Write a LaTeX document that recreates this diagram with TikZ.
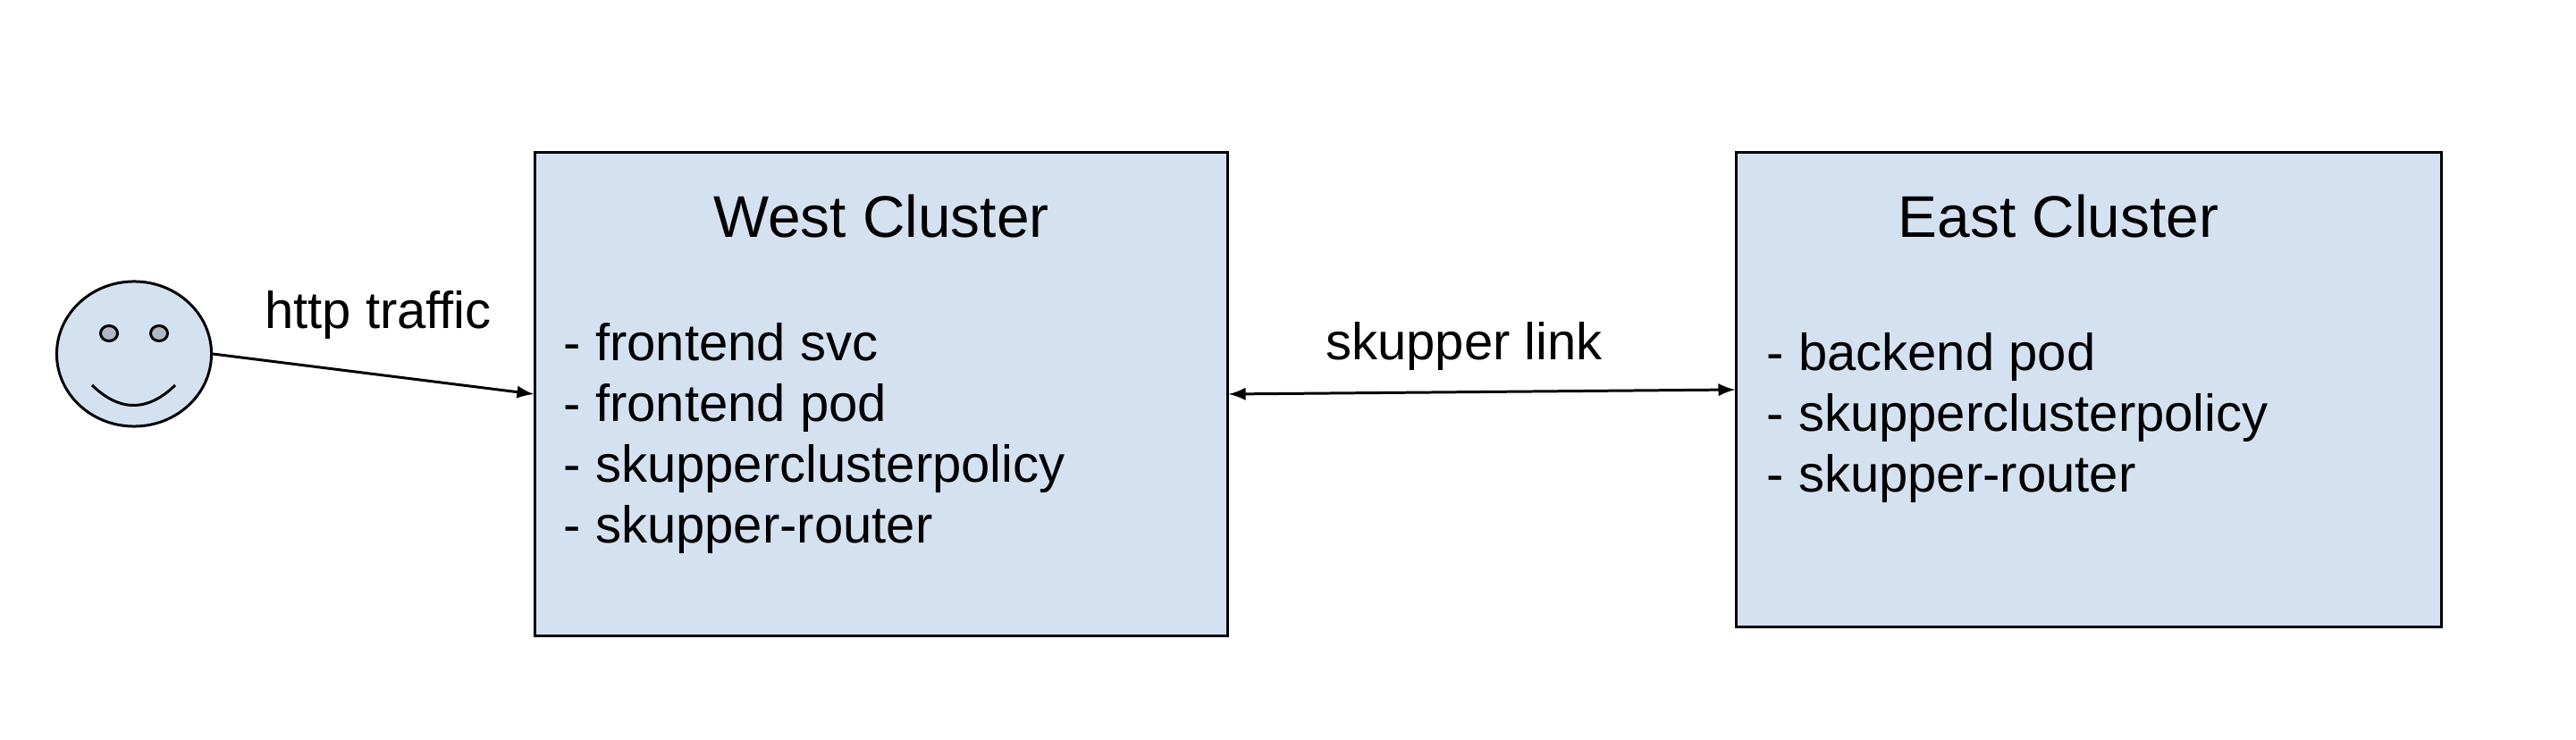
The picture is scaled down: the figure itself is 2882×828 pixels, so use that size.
\documentclass[tikz,border=0pt]{standalone}
\usepackage{fontspec}
\setmainfont{Liberation Sans}
\usepackage{xcolor}
\usetikzlibrary{shapes.geometric}
\definecolor{boxblue}{HTML}{D4E1F1}
\definecolor{eyegray}{HTML}{AEB9C7}
\tikzset{
	cluster/.style={draw=black, fill=boxblue, line width=0.85pt, inner sep=0pt},
	label/.style={font=\fontsize{16.5}{20}\selectfont, inner sep=0pt, anchor=base},
	item/.style={font=\fontsize{16.5}{20}\selectfont, inner sep=0pt, anchor=base west},
	title/.style={font=\fontsize{18.7}{22}\selectfont, inner sep=0pt, anchor=base},
	link/.style={line width=0.85pt, latex-latex},
}

\begin{document}
\begin{tikzpicture}[x=0.01cm, y=-0.01cm]
\useasboundingbox (0,0) rectangle (2882,828);

\node [cluster, minimum width=7.74cm, minimum height=5.40cm] at (986,441) (west) {};
\node [cluster, minimum width=7.88cm, minimum height=5.30cm] at (2337,436) (east) {};
\node [draw=black, fill=boxblue, line width=0.85pt, ellipse, inner sep=0pt, minimum width=1.73cm, minimum height=1.62cm] at (150,396) (face) {};

\foreach \x/\name in {122/lefteye,178/righteye}
	\node [draw=black, fill=eyegray, line width=0.85pt, ellipse, inner sep=0pt, minimum width=0.19cm, minimum height=0.17cm] at (\x,373) (\name) {};
\draw [line width=0.85pt] (103,431) .. controls (134,461) and (165,461) .. (196,431);

\node [title] at (986,266) (westtitle) {West Cluster};
\node [title] at (2303,266) (easttitle) {East Cluster};

\foreach \y/\name/\txt in {
		404/wa/frontend svc,
		472/wb/frontend pod,
		540/wc/skupperclusterpolicy,
		608/wd/skupper-router
	}
	\node [item] at (630,\y) (\name) {- \txt};

\foreach \y/\name/\txt in {
		415/ea/backend pod,
		483/eb/skupperclusterpolicy,
		551/ec/skupper-router
	}
	\node [item] at (1976,\y) (\name) {- \txt};

\node [label] at (423,368) (http) {http traffic};
\node [label] at (1638,403) (skupper) {skupper link};

\draw [line width=0.85pt, -latex] (face.east) -- (west.west);
\draw [link] (west.east) -- (east.west);
\end{tikzpicture}
\end{document}
